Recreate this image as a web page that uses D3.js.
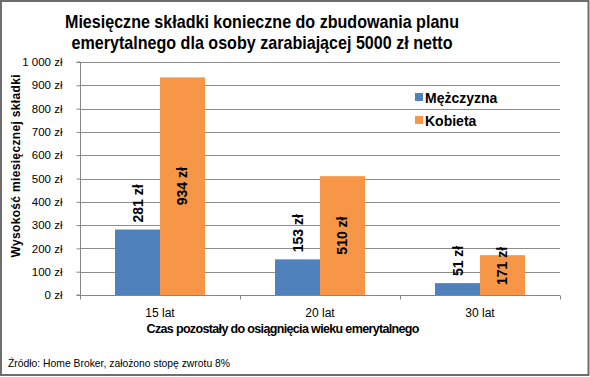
<!DOCTYPE html>
<html>
<head>
<meta charset="utf-8">
<script src="https://cdn.jsdelivr.net/npm/d3@7"></script>
<style>
  body { margin: 0; background: #fff; }
  svg text { font-family: "Liberation Sans", Arial, sans-serif; }
</style>
</head>
<body>
<div class="BarChart"></div>
<script>
// data
const categories = ["15 lat", "20 lat", "30 lat"];
const seriesNames = ["Mężczyzna", "Kobieta"];
const menValues = [281, 153, 51];
const womenValues = [934, 510, 171];
const yTicks = [0, 100, 200, 300, 400, 500, 600, 700, 800, 900, 1000];

const colors = ["#4F81BD", "#F79646"];

/* Dimensions */
const width = 590;
const height = 377;
const plot = { left: 80, right: 560, top: 62, bottom: 295 };

const fmt = v => d3.format(",")(v).replace(/,/g, " ") + " zł";

/* Scales */
const xScale = d3.scaleBand()
    .domain(categories)
    .range([plot.left, plot.right])
    .paddingInner(0)
    .paddingOuter(0);

const yScale = d3.scaleLinear()
    .domain([0, 1000])
    .range([plot.bottom, plot.top]);

const innerBand = d3.scaleBand()
    .domain(seriesNames)
    .range([0, xScale.bandwidth()])
    .paddingInner(0)
    .paddingOuter(0.7778);

/* SVG container */
const svg = d3.select(".BarChart")
    .append("svg")
    .attr("width", width)
    .attr("height", height);

svg.append("rect")
    .attr("width", width)
    .attr("height", height)
    .attr("fill", "#fff");

// outer border
svg.append("rect")
    .attr("x", 1)
    .attr("y", 1)
    .attr("width", 587.5)
    .attr("height", 374)
    .attr("fill", "none")
    .attr("stroke", "#6e6e6e")
    .attr("stroke-width", 2);

// gridlines
svg.append("g")
    .selectAll("line")
    .data(yTicks.filter(d => d > 0))
    .enter()
    .append("line")
    .attr("x1", plot.left)
    .attr("x2", plot.right)
    .attr("y1", d => Math.round(yScale(d)) + 0.5)
    .attr("y2", d => Math.round(yScale(d)) + 0.5)
    .attr("stroke", "#8c8c8c")
    .attr("stroke-width", 1);

/* Bars */
const series = [menValues, womenValues];
series.forEach((vals, si) => {
    svg.append("g")
        .selectAll("rect")
        .data(vals)
        .enter()
        .append("rect")
        .attr("x", (d, i) => xScale(categories[i]) + innerBand(seriesNames[si]))
        .attr("y", d => yScale(d))
        .attr("width", innerBand.bandwidth())
        .attr("height", d => yScale(0) - yScale(d))
        .attr("fill", colors[si]);
});

/* Axes */
const yAxis = svg.append("g")
    .attr("transform", `translate(${plot.left + 0.5},0)`)
    .call(d3.axisLeft(yScale).tickValues(yTicks).tickSize(4).tickPadding(14).tickFormat(fmt));
yAxis.selectAll("line").attr("stroke", "#868686");
yAxis.select(".domain").attr("stroke", "#868686").attr("d", `M-4,${plot.top}H0V${plot.bottom}H-4`);
yAxis.selectAll("text")
    .style("font-size", "11.5px")
    .attr("fill", "#000");

const xAxis = svg.append("g")
    .attr("transform", `translate(0,${plot.bottom + 0.5})`);
xAxis.append("line")
    .attr("x1", plot.left)
    .attr("x2", plot.right)
    .attr("stroke", "#868686");
xAxis.selectAll("line.tick")
    .data(d3.range(categories.length + 1))
    .enter()
    .append("line")
    .attr("class", "tick")
    .attr("x1", i => Math.round(plot.left + i * xScale.bandwidth()) + 0.5)
    .attr("x2", i => Math.round(plot.left + i * xScale.bandwidth()) + 0.5)
    .attr("y1", 0)
    .attr("y2", 4)
    .attr("stroke", "#868686");
xAxis.selectAll("text")
    .data(categories)
    .enter()
    .append("text")
    .attr("x", d => xScale(d) + xScale.bandwidth() / 2)
    .attr("y", 21)
    .attr("text-anchor", "middle")
    .style("font-size", "12px")
    .text(d => d);

/* Bar labels */
const labelGap = 7;
menValues.forEach((v, i) => {
    const cx = xScale(categories[i]) + innerBand(seriesNames[0]) + innerBand.bandwidth() / 2;
    svg.append("text")
        .attr("transform", `translate(${cx + 5},${yScale(v) - labelGap}) rotate(-90)`)
        .attr("text-anchor", "start")
        .style("font-size", "14px")
        .style("font-weight", "bold")
        .text(fmt(v));
});
womenValues.forEach((v, i) => {
    const cx = xScale(categories[i]) + innerBand(seriesNames[1]) + innerBand.bandwidth() / 2;
    const mid = (yScale(v) + yScale(0)) / 2;
    const cy = Math.min(mid, yScale(0) - 11 - 18);
    svg.append("text")
        .attr("transform", `translate(${cx + 5},${cy}) rotate(-90)`)
        .attr("text-anchor", "middle")
        .style("font-size", "14px")
        .style("font-weight", "bold")
        .text(fmt(v));
});

/* Legend */
const legend = svg.append("g").attr("transform", "translate(415,93)");
seriesNames.forEach((name, i) => {
    legend.append("rect")
        .attr("x", 0)
        .attr("y", i * 23)
        .attr("width", 8)
        .attr("height", 8)
        .attr("fill", colors[i]);
    legend.append("text")
        .attr("x", 10)
        .attr("y", i * 23 + 10)
        .style("font-size", "14px")
        .style("font-weight", "bold")
        .text(name);
});

/* Titles */
const title = svg.append("text")
    .attr("text-anchor", "middle")
    .style("font-size", "19px")
    .style("font-weight", "bold");
title.append("tspan").attr("x", 262).attr("y", 28)
    .attr("textLength", 394).attr("lengthAdjust", "spacingAndGlyphs")
    .text("Miesięczne składki konieczne do zbudowania planu");
title.append("tspan").attr("x", 262).attr("y", 49)
    .attr("textLength", 381).attr("lengthAdjust", "spacingAndGlyphs")
    .text("emerytalnego dla osoby zarabiającej 5000 zł netto");

svg.append("text")
    .attr("transform", "translate(20,166) rotate(-90)")
    .attr("text-anchor", "middle")
    .style("font-size", "12px")
    .style("font-weight", "bold")
    .attr("textLength", 183)
    .text("Wysokość miesięcznej składki");

svg.append("text")
    .attr("x", 283)
    .attr("y", 333)
    .attr("text-anchor", "middle")
    .style("font-size", "12.5px")
    .style("font-weight", "bold")
    .attr("textLength", 273)
    .text("Czas pozostały do osiągnięcia wieku emerytalnego");

svg.append("text")
    .attr("x", 8)
    .attr("y", 367)
    .style("font-size", "11.5px")
    .attr("textLength", 222)
    .attr("lengthAdjust", "spacingAndGlyphs")
    .text("Źródło: Home Broker, założono stopę zwrotu 8%");
</script>
</body>
</html>
